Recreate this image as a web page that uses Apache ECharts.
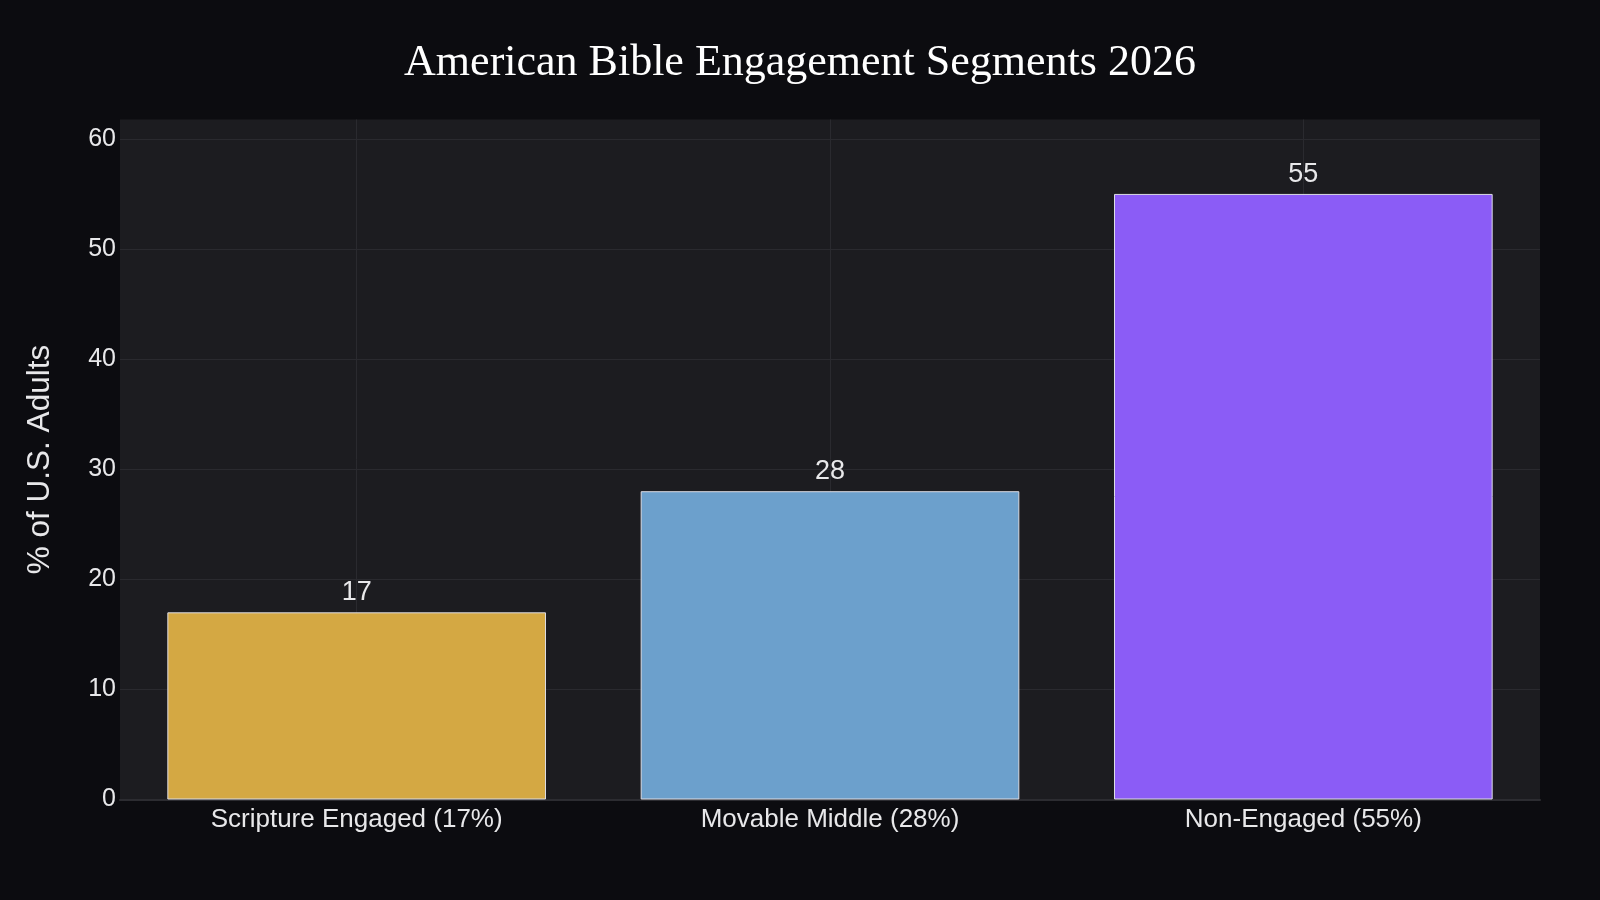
<!DOCTYPE html>
<html>
<head>
<meta charset="utf-8">
<style>
html,body{margin:0;padding:0;background:#0c0c10;}
#chart{width:1600px;height:900px;}
</style>
<script src="https://cdn.jsdelivr.net/npm/echarts@6/dist/echarts.min.js"></script>
</head>
<body>
<div id="chart"></div>
<script>
const categories = ['Scripture Engaged (17%)', 'Movable Middle (28%)', 'Non-Engaged (55%)'];
const values = [17, 28, 55];
const barColors = ['#d4a843', '#6ca0cc', '#8b5cf6'];
const yTicks = [0, 10, 20, 30, 40, 50, 60];

const chart = echarts.init(document.getElementById('chart'));
chart.setOption({
  backgroundColor: '#0c0c10',
  animation: false,
  title: {
    text: 'American Bible Engagement Segments 2026',
    left: 'center',
    top: 36,
    textStyle: { fontFamily: 'Liberation Serif', fontSize: 44, fontWeight: 'normal', color: '#ffffff' }
  },
  grid: {
    left: 120, right: 60, top: 119.5, bottom: 100.5,
    show: true, backgroundColor: '#1c1c20', borderWidth: 0,
    containLabel: false, outerBoundsMode: 'none'
  },
  xAxis: {
    type: 'category',
    data: categories,
    axisLine: { show: true, lineStyle: { color: '#2c2c31', width: 2 } },
    axisTick: { show: false, alignWithLabel: true },
    axisLabel: { color: '#e8e8ea', fontFamily: 'Liberation Sans', fontSize: 26, margin: 7 },
    splitLine: { show: true, alignWithLabel: true, lineStyle: { color: '#2a2a2f', width: 1 } }
  },
  yAxis: {
    type: 'value',
    min: 0,
    max: 61.76,
    interval: 10,
    name: '% of U.S. Adults',
    nameLocation: 'middle',
    nameGap: 64,
    nameTextStyle: { color: '#e8e8ea', fontFamily: 'Liberation Sans', fontSize: 31.5 },
    axisLine: { show: false },
    axisTick: { show: false },
    axisLabel: {
      color: '#e8e8ea', fontFamily: 'Liberation Sans', fontSize: 25, margin: 4,
      showMaxLabel: false,
      formatter: v => (yTicks.indexOf(v) >= 0 ? String(v) : '')
    },
    splitLine: { show: true, showMaxLine: false, lineStyle: { color: '#2a2a2f', width: 1 } }
  },
  series: [{
    type: 'bar',
    barWidth: '80%',
    data: values.map((v, i) => ({ value: v, itemStyle: { color: barColors[i] } })),
    itemStyle: { borderColor: '#dcdce4', borderWidth: 1 },
    label: {
      show: true, position: 'top', distance: 6,
      color: '#e8e8ea', fontFamily: 'Liberation Sans', fontSize: 27
    }
  }]
});
</script>
</body>
</html>
